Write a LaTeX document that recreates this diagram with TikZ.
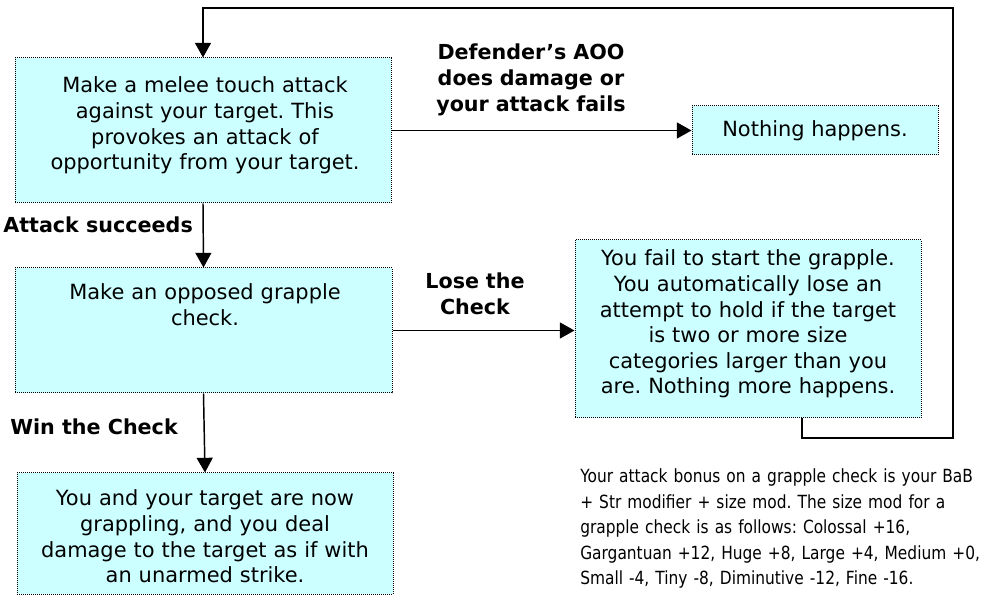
\documentclass[tikz,border=0pt]{standalone}
\usepackage{fontspec}
\setmainfont{DejaVu Sans}
\newfontfamily\notefont[FakeStretch=0.85]{DejaVu Sans}
\usetikzlibrary{arrows.meta,calc}
\definecolor{boxfill}{RGB}{204,255,255}
\frenchspacing
\begin{document}
\begin{tikzpicture}[x=0.75pt,y=-0.75pt,
  every node/.style={font=\fontsize{15.7pt}{19.2pt}\selectfont, inner sep=0pt},
  box/.style={draw=black, fill=boxfill, line width=0.75pt, dash pattern=on 0.75pt off 0.75pt},
  body/.style={anchor=base, text width=370*0.75pt, align=center},
  lbl/.style={font=\fontsize{15.5pt}{19.5pt}\selectfont\bfseries},
  arr/.style={line width=1.1pt, -{Triangle[length=11pt,width=12pt]}},
  line/.style={line width=1.1pt}]
\useasboundingbox (0,0) rectangle (983,595);
% boxes
\node[box, minimum width=376*0.75pt, minimum height=145*0.75pt] (b1) at (203,130.5) {};
\node[box, minimum width=246*0.75pt, minimum height=49*0.75pt] (b2) at (815,130.5) {};
\node[box, minimum width=377*0.75pt, minimum height=125*0.75pt] (b3) at (203.5,330.5) {};
\node[box, minimum width=346*0.75pt, minimum height=178*0.75pt] (b4) at (748,329) {};
\node[box, minimum width=376*0.75pt, minimum height=121*0.75pt] (b5) at (205,533.5) {};
% box texts
\node[body] (t1) at (205,93) {Make a melee touch attack\\against your target. This\\provokes an attack of\\opportunity from your target.};
\node[anchor=base] (t2) at (815,137) {Nothing happens.};
\node[body] (t3) at (205,300) {Make an opposed grapple\\check.};
\node[body, text width=340*0.75pt] (t4) at (748,266) {You fail to start the grapple.\\You automatically lose an\\attempt to hold if the target\\is two or more size\\categories larger than you\\are. Nothing more happens.};
\node[body] (t5) at (205,506) {You and your target are now\\grappling, and you deal\\damage to the target as if with\\an unarmed strike.};
% labels
\node[lbl, anchor=base, text width=200*0.75pt, align=center] (l1) at (531,60) {Defender’s AOO\\does damage or\\your attack fails};
\node[lbl, anchor=base west] (l2) at (3,233) {Attack succeeds};
\node[lbl, anchor=base, text width=120*0.75pt, align=center] (l3) at (475,289) {Lose the\\Check};
\node[lbl, anchor=base west] (l4) at (10,435) {Win the Check};
\node[anchor=base west, text width=405*0.75pt, align=left, font=\notefont\fontsize{13.6pt}{19.1pt}\selectfont] (note) at (580,483) {Your attack bonus on a grapple check is your BaB\\+ Str modifier + size mod. The size mod for a\\grapple check is as follows: Colossal +16,\\Gargantuan +12, Huge +8, Large +4, Medium +0,\\Small -4, Tiny -8, Diminutive -12, Fine -16.};
% connectors
\draw[arr] (b1.east) -- (b2.west);
\draw[arr] (b1.south) -- (b3.north);
\draw[arr] (b3.east) -- (b3.east -| b4.west);
\draw[arr] (b3.south) -- (b5.north);
\coordinate (lx) at (802,0);
\coordinate (c1) at (953,438);
\coordinate (c2) at (953,8);
\draw[arr] (b4.south -| lx) |- (c1) -- (c2) -| (b1.north);
\end{tikzpicture}
\end{document}
